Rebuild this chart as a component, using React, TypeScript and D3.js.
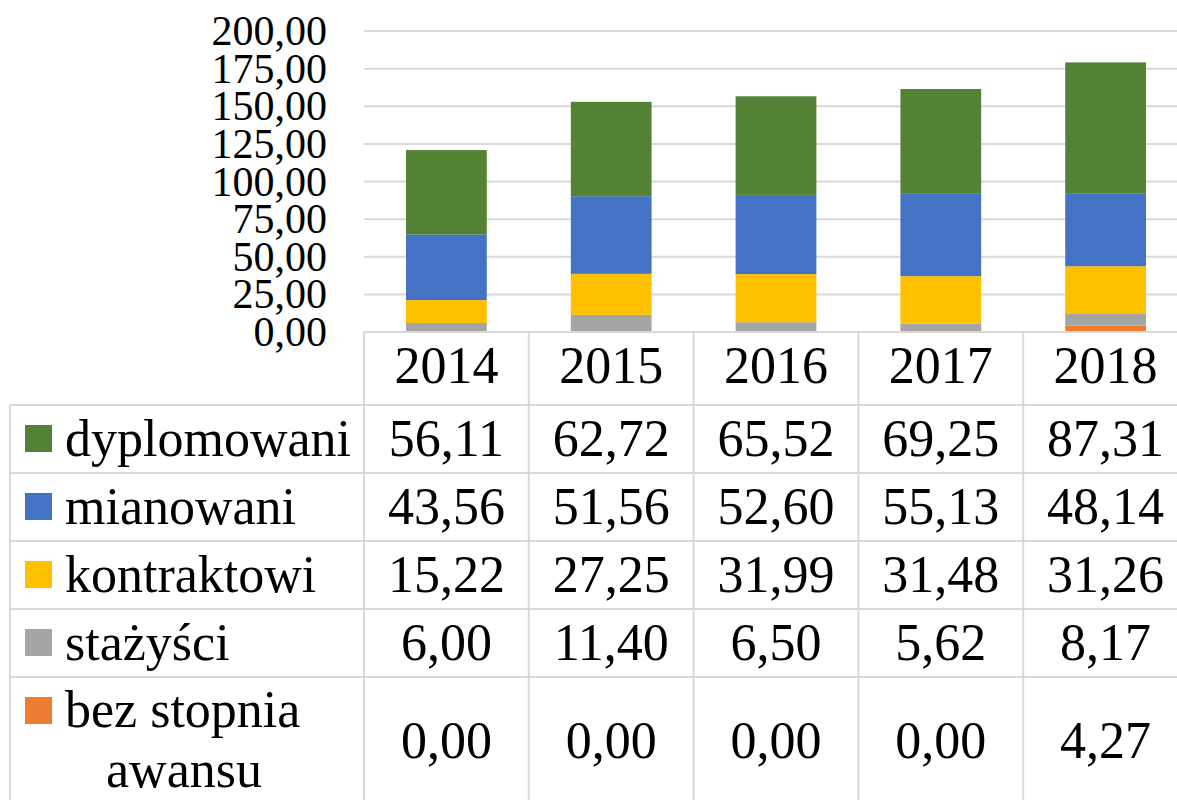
import React from "react";
import * as d3 from "d3";

const years = ["2014", "2015", "2016", "2017", "2018"];
const seriesNames = ["dyplomowani", "mianowani", "kontraktowi", "stażyści", "bez stopnia awansu"];
const dyplomowani = [56.11, 62.72, 65.52, 69.25, 87.31];
const mianowani = [43.56, 51.56, 52.6, 55.13, 48.14];
const kontraktowi = [15.22, 27.25, 31.99, 31.48, 31.26];
const stazysci = [6.0, 11.4, 6.5, 5.62, 8.17];
const bezStopnia = [0.0, 0.0, 0.0, 0.0, 4.27];
const yTicks = [0, 25, 50, 75, 100, 125, 150, 175, 200];
const colors = ["#548235", "#4472C4", "#FFC000", "#A5A5A5", "#ED7D31"];

const seriesValues = [dyplomowani, mianowani, kontraktowi, stazysci, bezStopnia];

const W = 1177;
const H = 800;
const FONT = "Liberation Serif, Tinos, serif";
const fmt = (v: number) => d3.format(".2f")(v).replace(".", ",");

export default function App() {
  const x = d3.scaleBand<string>().domain(years).range([364, 1188]).paddingInner(0).paddingOuter(0);
  const y = d3.scaleLinear().domain([0, 200]).range([332, 31]);
  const bw = x.bandwidth() * 0.49;

  const keys = [...seriesNames].reverse();
  const rows = years.map((yr, i) => {
    const r: any = { year: yr };
    seriesNames.forEach((n, s) => (r[n] = seriesValues[s][i]));
    return r;
  });
  const stacked = d3.stack<any>().keys(keys)(rows);

  const tableLeft = 10;
  const headerTop = 332;
  const rowTops = [405, 473, 541, 609, 677];
  const gridColor = "#D9D9D9";

  return (
    <svg width={W} height={H} style={{ position: "absolute", left: 0, top: 0, background: "#fff" }}>
      <rect x={0} y={0} width={W} height={H} fill="#fff" />
      {yTicks.map((t) => (
        <line key={t} x1={364} x2={W} y1={y(t)} y2={y(t)} stroke={gridColor} strokeWidth={2} />
      ))}
      {yTicks.map((t) => (
        <text key={"l" + t} x={327} y={y(t) + 14} textAnchor="end" fontFamily={FONT} fontSize={42} fill="#000">
          {fmt(t)}
        </text>
      ))}
      {stacked.map((layer) => {
        const si = seriesNames.indexOf(layer.key);
        return (
          <g key={layer.key} fill={colors[si]}>
            {layer.map((d, i) => {
              const h = y(d[0]) - y(d[1]);
              if (h <= 0) return null;
              return (
                <rect
                  key={i}
                  x={(x(years[i]) as number) + (x.bandwidth() - bw) / 2}
                  y={y(d[1])}
                  width={bw}
                  height={h}
                />
              );
            })}
          </g>
        );
      })}
      <line x1={364} x2={W} y1={headerTop} y2={headerTop} stroke={gridColor} strokeWidth={2} />
      {rowTops.map((t) => (
        <line key={"h" + t} x1={tableLeft} x2={W} y1={t} y2={t} stroke={gridColor} strokeWidth={2} />
      ))}
      <line x1={tableLeft} x2={tableLeft} y1={rowTops[0]} y2={H} stroke={gridColor} strokeWidth={2} />
      {years.map((yr) => (
        <line
          key={"v" + yr}
          x1={x(yr) as number}
          x2={x(yr) as number}
          y1={headerTop}
          y2={H}
          stroke={gridColor}
          strokeWidth={2}
        />
      ))}
      {years.map((yr) => (
        <text
          key={"t" + yr}
          x={(x(yr) as number) + x.bandwidth() / 2}
          y={headerTop + 51}
          textAnchor="middle"
          fontFamily={FONT}
          fontSize={52}
          fill="#000"
        >
          {yr}
        </text>
      ))}
      {seriesNames.map((n, s) => {
        const top = rowTops[s];
        const isLast = s === seriesNames.length - 1;
        const valY = isLast ? 758 : top + 51;
        return (
          <g key={"r" + n}>
            <rect x={25} y={top + 20} width={27} height={27} fill={colors[s]} />
            {isLast ? (
              <>
                <text x={65} y={top + 50} fontFamily={FONT} fontSize={52} fill="#000">
                  bez stopnia
                </text>
                <text x={184} y={top + 110} textAnchor="middle" fontFamily={FONT} fontSize={52} fill="#000">
                  awansu
                </text>
              </>
            ) : (
              <text x={65} y={top + 51} fontFamily={FONT} fontSize={52} fill="#000">
                {n}
              </text>
            )}
            {years.map((yr, i) => (
              <text
                key={yr}
                x={(x(yr) as number) + x.bandwidth() / 2}
                y={valY}
                textAnchor="middle"
                fontFamily={FONT}
                fontSize={52}
                fill="#000"
              >
                {fmt(seriesValues[s][i])}
              </text>
            ))}
          </g>
        );
      })}
    </svg>
  );
}
